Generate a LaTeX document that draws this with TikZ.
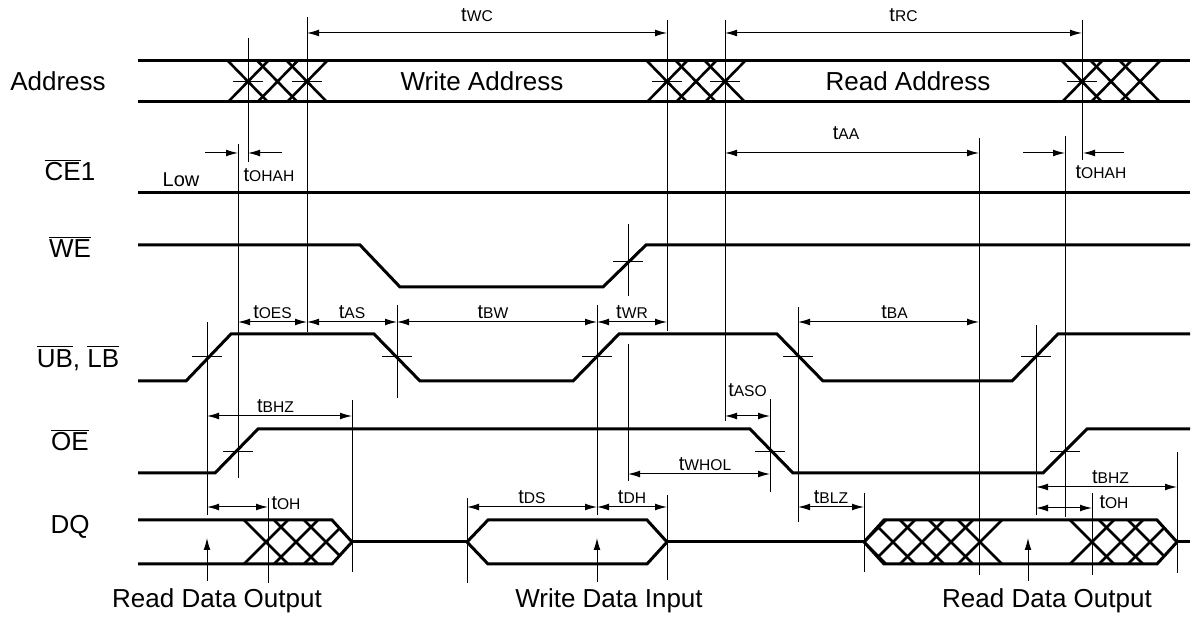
\documentclass[tikz,border=0pt]{standalone}
\usepackage{fontspec}
\setmainfont{Liberation Sans}
\usetikzlibrary{arrows.meta}

\newcommand\tsub[1]{{\fontsize{10}{12}\selectfont t}{\fontsize{7.8}{9}\selectfont #1}}
\newcommand\ovl[1]{$\overline{\mbox{#1}}$}

\tikzset{
  sig/.style={line width=1.5pt, line join=miter},
  hatch/.style={line width=1.3pt},
  ref/.style={line width=0.5pt},
  tick/.style={line width=0.5pt},
  dim/.style={line width=0.5pt, {Latex[length=6pt,width=3.4pt]}-{Latex[length=6pt,width=3.4pt]}},
  half/.style={line width=0.5pt, -{Latex[length=6pt,width=3.4pt]}},
  dlab/.style={inner sep=1.5pt},
  lbl/.style={font=\fontsize{13}{15}\selectfont, inner sep=0pt},
}

\begin{document}
\begin{tikzpicture}[x=0.5pt, y=-0.5pt]

  \useasboundingbox (0,0) rectangle (1191,619);

  \newcommand\YAT{61}
  \newcommand\YAB{102}
  \newcommand\YAM{81.5}
  \newcommand\YDT{520}
  \newcommand\YDB{564}
  \newcommand\YDM{542}

  % signal names
  \node[lbl] (addr) at (58,81) {Address};
  \node[lbl] (ce)   at (70,170) {\ovl{CE}1};
  \node[lbl] (we)   at (70,247) {\ovl{WE}};
  \node[lbl] (ublb) at (78,358) {\ovl{UB}, \ovl{LB}};
  \node[lbl] (oe)   at (70,440) {\ovl{OE}};
  \node[lbl] (dq)   at (70,527) {DQ};

  % address bus
  \foreach \c in {248,277.5,307,667,696,725,1082,1111,1140}
    \draw[hatch] (\c-20,\YAT) -- (\c+20,\YAB) (\c-20,\YAB) -- (\c+20,\YAT);
  \draw[sig] (138,\YAT) -- (1190,\YAT);
  \draw[sig] (138,\YAB) -- (1190,\YAB);
  \foreach \c in {248,307,667,725,1082}
    \draw[tick] (\c-15,\YAM) -- (\c+15,\YAM);
  \node[lbl] (wadr) at (482,81) {Write Address};
  \node[lbl] (radr) at (908,81) {Read Address};

  % CE1, WE, UB/LB, OE
  \draw[sig] (138,193) -- (1190,193);
  \node[inner sep=0pt, font=\fontsize{10}{12}\selectfont] (low) at (181,180) {Low};
  \draw[sig] (138,245) -- (360,245) -- (400,287) -- (603,287) -- (646,245) -- (1190,245);
  \draw[sig] (138,381) -- (186,381) -- (231,334) -- (374,334) -- (420,381)
    -- (573,381) -- (619,334) -- (777,334) -- (823,381) -- (1012,381)
    -- (1058,334) -- (1190,334);
  \draw[sig] (138,473) -- (215,473) -- (258,429) -- (750,429) -- (793,473)
    -- (1043,473) -- (1087,429) -- (1190,429);

  \foreach \x/\y in {628/262,207/357,397/357,597/357,798/357,1036/357,238/452,770/452,1065/452}
    \draw[tick] (\x-15,\y) -- (\x+15,\y);

  % data bus
  \begin{scope}
    \clip (138,\YDT) -- (332,\YDT) -- (352,\YDM) -- (332,\YDB) -- (138,\YDB) -- cycle;
    \foreach \c in {266,296,326}
      \draw[hatch] (\c-22,\YDT) -- (\c+22,\YDB) (\c-22,\YDB) -- (\c+22,\YDT);
  \end{scope}
  \begin{scope}
    \clip (864,\YDM) -- (884,\YDT) -- (1157,\YDT) -- (1177,\YDM) -- (1157,\YDB) -- (884,\YDB) -- cycle;
    \foreach \c in {864,893,922,951,980,1092,1121,1150}
      \draw[hatch] (\c-22,\YDT) -- (\c+22,\YDB) (\c-22,\YDB) -- (\c+22,\YDT);
  \end{scope}
  \draw[sig] (138,\YDT) -- (332,\YDT) -- (352,\YDM) -- (332,\YDB) -- (138,\YDB);
  \draw[sig] (352,\YDM) -- (467,\YDM);
  \draw[sig] (467,\YDM) -- (488,\YDT) -- (647,\YDT) -- (667,\YDM) -- (647,\YDB) -- (488,\YDB) -- cycle;
  \draw[sig] (667,\YDM) -- (864,\YDM);
  \draw[sig] (864,\YDM) -- (884,\YDT) -- (1157,\YDT) -- (1177,\YDM) -- (1157,\YDB) -- (884,\YDB) -- cycle;
  \draw[sig] (1177,\YDM) -- (1190,\YDM);

  % reference lines
  \foreach \x/\ya/\yb in {207/322/515, 238/144/478, 248/38/162, 268/498/583,
      307/17/332, 352/400/572, 397/305/398, 467/498/583, 597/305/515,
      628/224/296, 628/344/481, 667/20/331, 667/495/580, 725/20/421,
      770/399/492, 798/307/522, 864/493/572, 979/138/575, 1036/325/515,
      1065/136/517, 1082/20/160, 1092/493/575, 1177/452/573}
    \draw[ref] (\x,\ya) -- (\x,\yb);

  % timing
  \draw[dim] (307,33) -- node[dlab, above, yshift=4pt, xshift=-5pt] (twc) {\tsub{WC}} (667,33);
  \draw[dim] (725,33) -- node[dlab, above, yshift=4pt] (trc) {\tsub{RC}} (1082,33);
  \draw[dim] (725,153) -- node[dlab, above, yshift=5pt, xshift=-3pt] (taa) {\tsub{AA}} (979,153);

  \draw[half] (205,153) -- (238,153);
  \draw[half] (282,153) -- (248,153);
  \node[inner sep=0pt] (tohah) at (269,175) {\tsub{OHAH}};
  \draw[half] (1023,153) -- (1065,153);
  \draw[half] (1124,153) -- (1083,153);
  \node[inner sep=0pt] (tohahb) at (1101,172) {\tsub{OHAH}};

  \draw[dim] (238,322) -- node[dlab, above] (toes) {\tsub{OES}} (307,322);
  \draw[dim] (307,322) -- node[dlab, above] (tas) {\tsub{AS}} (397,322);
  \draw[dim] (397,322) -- node[dlab, above, xshift=-2pt] (tbw) {\tsub{BW}} (597,322);
  \draw[dim] (597,322) -- node[dlab, above] (twr) {\tsub{WR}} (667,322);
  \draw[dim] (798,322) -- node[dlab, above, xshift=3pt] (tba) {\tsub{BA}} (979,322);

  \draw[dim] (207,416) -- node[dlab, above, xshift=-2pt] (tbhz) {\tsub{BHZ}} (352,416);
  \draw[dim] (725,416) -- node[dlab, above, yshift=8pt] (taso) {\tsub{ASO}} (770,416);
  \draw[dim] (628,474) -- node[dlab, above, xshift=3pt] (twhol) {\tsub{WHOL}} (770,474);

  \draw[dim] (207,507) -- (268,507);
  \node[inner sep=0pt] (toh) at (286,503) {\tsub{OH}};
  \draw[dim] (467,507) -- node[dlab, above] (tds) {\tsub{DS}} (597,507);
  \draw[dim] (597,507) -- node[dlab, above] (tdh) {\tsub{DH}} (667,507);
  \draw[dim] (798,507) -- node[dlab, above] (tblz) {\tsub{BLZ}} (864,507);
  \draw[dim] (1036,487) -- node[dlab, above, xshift=2pt] (tbhzb) {\tsub{BHZ}} (1177,487);
  \draw[dim] (1036,508) -- (1092,508);
  \node[inner sep=0pt] (tohb) at (1114,502) {\tsub{OH}};

  % data direction
  \draw[half] (207,581) -- (207,538);
  \draw[half] (597,582) -- (597,538);
  \draw[half] (1028,581) -- (1028,538);
  \node[lbl] (rdo)  at (217,601) {Read Data Output};
  \node[lbl] (wdi)  at (609,601) {Write Data Input};
  \node[lbl] (rdob) at (1047,601) {Read Data Output};

\end{tikzpicture}
\end{document}
